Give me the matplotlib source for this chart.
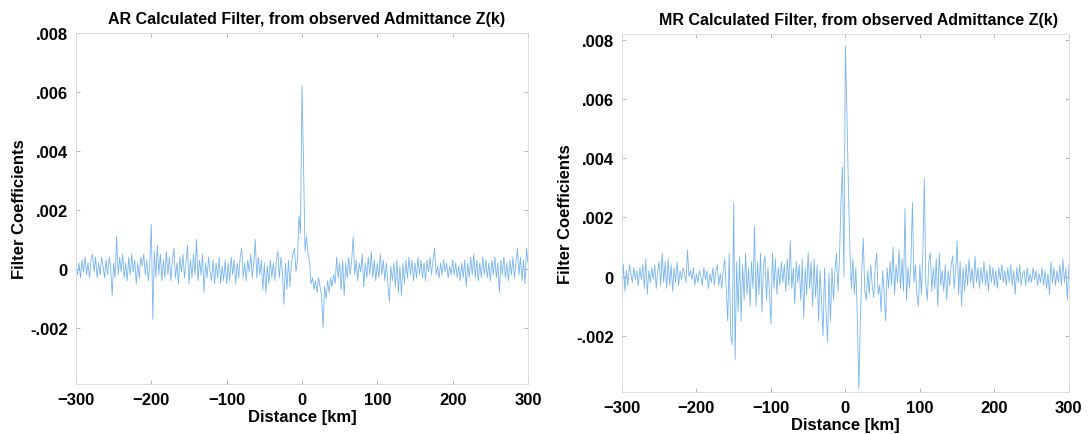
import matplotlib
matplotlib.use("Agg")
import matplotlib.pyplot as plt
from matplotlib.ticker import FuncFormatter
import numpy as np

plt.rcParams['font.family'] = ['Liberation Sans', 'DejaVu Sans']
plt.rcParams['font.weight'] = 'bold'

# distance axis, km (2 km sampling)
distance_km = np.arange(-300, 301, 2)

# AR filter coefficients, in units of 1e-4
ar_coef = [
    1, -2, 2, -3, 3, -1, 4, -2, 2, -3,
    3, 5, -1, 4, -3, 2, -2, 4, 1, -3,
    3, -2, 4, 1, -9, 2, -3, 11, -2, 4,
    -1, 5, -3, 2, -4, 4, -2, 5, -1, 3,
    -5, 2, -3, 4, 1, 5, -2, 3, -4, 2,
    15, -17, 6, -3, 8, -2, 5, -4, 3, -3,
    6, -2, 4, -4, 3, 7, -3, 2, -5, 4,
    -1, 5, -3, 2, 8, -5, 3, -3, 5, -2,
    10, -4, 3, -2, 5, -8, 2, -3, 4, -1,
    -4, 3, -5, 2, -3, 4, -5, 1, -4, 3,
    -5, 2, -4, 4, -2, 3, -5, 2, -3, 4,
    7, -3, 2, -4, 3, -1, 5, -3, 2, 10,
    -3, 4, -2, 3, -7, 2, -8, 1, -5, 3,
    -3, 2, -4, 3, 6, -3, 4, -1, -12, 2,
    -7, 3, -6, 2, 5, 7, -1, 3, 18, 12,
    62, 37, 6, 11, 5, 3, -5, -3, -7, -4,
    -8, -3, -6, -9, -20, -6, -10, -4, -8, -3,
    -6, -2, -5, 4, -3, 2, -7, 3, -9, 2,
    -3, 4, -2, 3, 11, -2, 3, -4, 2, -1,
    5, -6, 2, -3, 4, -2, 6, -3, 3, -4,
    2, -3, 5, -2, 3, -4, 2, -5, -11, 1,
    -4, 2, -6, 3, -8, 1, -9, 2, -5, 3,
    -3, 4, -2, 3, -4, 2, -3, 4, -2, 3,
    -3, 2, -4, 3, -1, 4, -2, 3, 7, -2,
    1, -3, 2, -2, 3, -1, 2, -3, 1, -2,
    3, -2, 2, -3, 1, -4, 2, -3, 3, -6,
    2, -3, 4, -2, 5, -3, 3, -4, 2, -3,
    4, -2, 3, -3, 2, -4, 3, -2, 4, -3,
    2, -8, 3, -2, 4, -3, 2, -4, 3, -2,
    4, -3, 2, 7, -2, 4, -4, 3, -5, 7,
    2,
]

# MR filter coefficients, in units of 1e-4
mr_coef = [
    -7, 4, -5, 2, -3, 4, 1, -2, 3, -1,
    2, -3, 3, -1, 4, -4, 6, -6, 2, -2,
    3, -1, 4, -4, 2, 5, -3, 8, -2, 5,
    -4, 6, -3, 4, -5, 3, -2, 5, -3, 2,
    -1, 3, 1, -2, 9, 0, 2, -1, 3, -3,
    1, -2, 2, 0, -3, 3, -1, 2, -4, 1,
    -2, 3, -3, 2, 4, -3, 1, -4, 2, 6,
    -4, -15, 8, -20, -23, 25, -28, 5, -12, 7,
    -15, 4, -8, 8, -6, 3, -10, 5, -4, 17,
    -10, 5, -6, 8, -12, 4, 7, -8, 3, -5,
    -16, 8, -4, 6, -6, 3, -3, 5, -2, 4,
    -5, 6, -3, 12, -4, 3, -9, 5, -2, 4,
    -8, 6, -14, 3, -6, 8, -4, 5, -10, 6,
    -7, 4, -15, 2, -9, -20, 3, -12, -22, 1,
    -15, 3, -8, 2, 8, -5, 6, 25, 37, 0,
    78, 56, 30, 10, -4, 6, -6, 3, -14, -38,
    -16, 2, 13, -5, -8, 2, -6, 4, -3, -7,
    3, 8, -6, -3, -12, 2, -5, -15, 3, -4,
    5, -3, 10, -6, 4, -2, 9, -4, 6, -5,
    23, -8, 3, -4, 5, 25, -2, 4, -6, -10,
    4, -6, 8, 33, -3, -8, 5, 8, -5, 3,
    -4, 6, -10, 8, -3, 2, -5, 4, -8, 2,
    -3, 4, 7, -4, 2, 12, -6, 5, -10, 3,
    -5, 4, -3, 6, -2, 3, -4, 7, -2, 3,
    -4, 3, -2, 5, -3, 2, -5, 4, -2, 3,
    -3, 2, -4, 3, -1, 4, -2, 2, -3, 3,
    -2, 4, -3, 2, -6, 3, -2, 4, -3, 1,
    2, -3, 3, -2, 1, -2, 3, -1, 2, -3,
    1, -2, 3, -3, 2, -4, 1, -6, 5, -2,
    3, -3, 2, -2, 4, -3, 6, -2, 3, -8,
    4,
]

titles = ["AR Calculated Filter, from observed Admittance Z(k)",
          "MR Calculated Filter, from observed Admittance Z(k)"]
x_ticks = [-300, -200, -100, 0, 100, 200, 300]
y_ticks = [-0.002, 0, 0.002, 0.004, 0.006, 0.008]


def y_fmt(v, pos):
    if abs(v) < 1e-12:
        return "0"
    s = f"{v:.3f}"
    return s.replace("0.", ".")


def x_fmt(v, pos):
    return f"{int(v)}".replace("-", "\u2212")


fig = plt.figure(figsize=(10.9, 4.35), dpi=100)
ax_ar = fig.add_axes([0.0697, 0.115, 0.4147, 0.807])
ax_mr = fig.add_axes([0.5706, 0.0966, 0.410, 0.823])

panels = [(ax_ar, ar_coef, (-0.0039, 0.008), 0.51),
          (ax_mr, mr_coef, (-0.0039, 0.0082), 0.53)]

for i, (ax, coef, ylim, tx) in enumerate(panels):
    ax.plot(distance_km, np.array(coef) * 1e-4, color='#4a9be8', lw=0.6, alpha=0.75)
    ax.set_xlim(-300, 300)
    ax.set_ylim(*ylim)
    ax.set_xticks(x_ticks)
    ax.set_yticks(y_ticks)
    ax.xaxis.set_major_formatter(FuncFormatter(x_fmt))
    ax.yaxis.set_major_formatter(FuncFormatter(y_fmt))
    ax.tick_params(direction='in', length=3, width=0.6, color='#aaaaaa',
                   top=True, right=True, labelsize=12, pad=6)
    for lab in ax.get_xticklabels() + ax.get_yticklabels():
        lab.set_fontweight('bold')
    for sp in ax.spines.values():
        sp.set_color('#d8d8d8')
        sp.set_linewidth(0.6)
    ax.set_title(titles[i], fontsize=11.5, fontweight='bold', pad=7, x=tx)
    ax.set_xlabel("Distance [km]", fontsize=12, fontweight='bold', labelpad=1)
    ax.set_ylabel("Filter Coefficients", fontsize=12, fontweight='bold', labelpad=2)

fig.savefig("out.png", dpi=100)
